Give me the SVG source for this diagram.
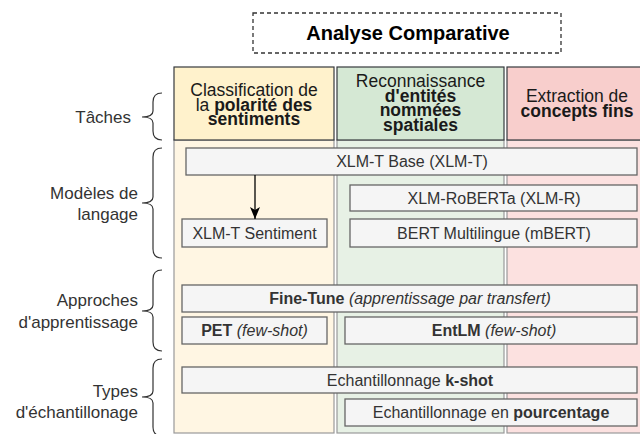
<svg xmlns="http://www.w3.org/2000/svg" width="640" height="434" viewBox="0 0 640 434">
<defs>
<style>
text{font-family:"Liberation Sans",Arial,Helvetica,sans-serif}
.lbl{font-size:17px;fill:#333;text-anchor:end}
.hdr{font-size:17.5px;fill:#1a1a1a;text-anchor:middle}
.box{fill:#f5f5f5;stroke:#666;stroke-width:1.3}
.bt{font-size:16px;fill:#333;text-anchor:middle}
.brace{fill:none;stroke:#333;stroke-width:1.2}
.b{font-weight:bold}
.i{font-style:italic}
</style>
<marker id="arr" markerWidth="12" markerHeight="12" refX="12" refY="6" orient="auto" markerUnits="userSpaceOnUse">
<path d="M0,1 L12,6 L0,11 L3,6 Z" fill="#000"/>
</marker>
</defs>
<rect width="640" height="434" fill="#fff"/>

<g id="title">
<rect x="253" y="13" width="308" height="40" fill="none" stroke="#333" stroke-width="1.3" stroke-dasharray="4 3"/>
<text x="408" y="40" font-size="20" font-weight="bold" fill="#000" text-anchor="middle">Analyse Comparative</text>
</g>

<g id="column-bodies">
<rect x="174" y="140" width="160" height="293" fill="#fff6e3" stroke="#999" stroke-width="1.2"/>
<rect x="337" y="140" width="167" height="293" fill="#e7f1e5" stroke="#999" stroke-width="1.2"/>
<rect x="507" y="140" width="140" height="293" fill="#fce1e0" stroke="#999" stroke-width="1.2"/>
</g>

<g id="header-sentiments">
<rect x="174" y="67" width="160" height="73" fill="#fff2cc" stroke="#36393d" stroke-width="1.2"/>
<text class="hdr" x="254" y="96">Classification de</text>
<text class="hdr" x="254" y="110.5">la <tspan class="b">polarité des</tspan></text>
<text class="hdr b" x="254" y="125">sentiments</text>
</g>
<g id="header-entites">
<rect x="337" y="67" width="167" height="73" fill="#d5e8d4" stroke="#36393d" stroke-width="1.2"/>
<text class="hdr" x="420.5" y="87">Reconnaissance</text>
<text class="hdr b" x="420.5" y="101.5">d'entités</text>
<text class="hdr b" x="420.5" y="116">nommées</text>
<text class="hdr b" x="420.5" y="130.5">spatiales</text>
</g>
<g id="header-concepts">
<rect x="507" y="67" width="140" height="73" fill="#f8cecc" stroke="#36393d" stroke-width="1.2"/>
<text class="hdr" x="577" y="102">Extraction de</text>
<text class="hdr b" x="577" y="117">concepts fins</text>
</g>

<g id="label-taches">
<text class="lbl" x="131" y="123">Tâches</text>
<path class="brace" d="M162,93 Q153,93 153,102 L153,111 Q153,117 142,117 Q153,117 153,123 L153,131 Q153,140 162,140"/>
</g>
<g id="label-modeles">
<text class="lbl" x="138" y="199">Modèles de</text>
<text class="lbl" x="138" y="220">langage</text>
<path class="brace" d="M162,148 Q153,148 153,157 L153,197 Q153,203 142,203 Q153,203 153,209 L153,249 Q153,258 162,258"/>
</g>
<g id="label-approches">
<text class="lbl" x="138" y="306">Approches</text>
<text class="lbl" x="138" y="328">d'apprentissage</text>
<path class="brace" d="M162,270 Q153,270 153,279 L153,305 Q153,311 142,311 Q153,311 153,317 L153,342 Q153,351 162,351"/>
</g>
<g id="label-types">
<text class="lbl" x="138" y="397">Types</text>
<text class="lbl" x="138" y="418">d'échantillonage</text>
<path class="brace" d="M162,359 Q153,359 153,368 L153,391 Q153,397 142,397 Q153,397 153,403 L153,427 Q153,436 162,436"/>
</g>

<g id="xlmt-base">
<rect class="box" x="186" y="148" width="451" height="27"/>
<text class="bt" x="412" y="167">XLM-T Base (XLM-T)</text>
</g>
<g id="xlm-roberta">
<rect class="box" x="350" y="185" width="287" height="26"/>
<text class="bt" x="494" y="204">XLM-RoBERTa (XLM-R)</text>
</g>
<g id="xlmt-sentiment">
<rect class="box" x="182" y="219" width="145" height="28"/>
<text class="bt" x="254.5" y="239">XLM-T Sentiment</text>
</g>
<g id="mbert">
<rect class="box" x="350" y="219" width="287" height="28"/>
<text class="bt" x="494" y="239">BERT Multilingue (mBERT)</text>
</g>
<g id="fine-tune">
<rect class="box" x="182" y="285" width="455" height="27"/>
<text class="bt" x="410" y="304"><tspan class="b">Fine-Tune</tspan> <tspan class="i">(apprentissage par transfert)</tspan></text>
</g>
<g id="pet">
<rect class="box" x="182" y="317" width="145" height="27"/>
<text class="bt" x="254.5" y="336"><tspan class="b">PET</tspan> <tspan class="i">(few-shot)</tspan></text>
</g>
<g id="entlm">
<rect class="box" x="345" y="317" width="292" height="27"/>
<text class="bt" x="494" y="336"><tspan class="b">EntLM</tspan> <tspan class="i">(few-shot)</tspan></text>
</g>
<g id="kshot">
<rect class="box" x="182" y="367" width="455" height="26"/>
<text class="bt" x="410" y="386">Echantillonnage <tspan class="b">k-shot</tspan></text>
</g>
<g id="pourcentage">
<rect class="box" x="345" y="399" width="292" height="27"/>
<text class="bt" x="491" y="418">Echantillonnage en <tspan class="b">pourcentage</tspan></text>
</g>

<g id="connectors">
<line x1="255" y1="175" x2="255" y2="219" stroke="#000" stroke-width="1.3" marker-end="url(#arr)"/>
</g>
</svg>
